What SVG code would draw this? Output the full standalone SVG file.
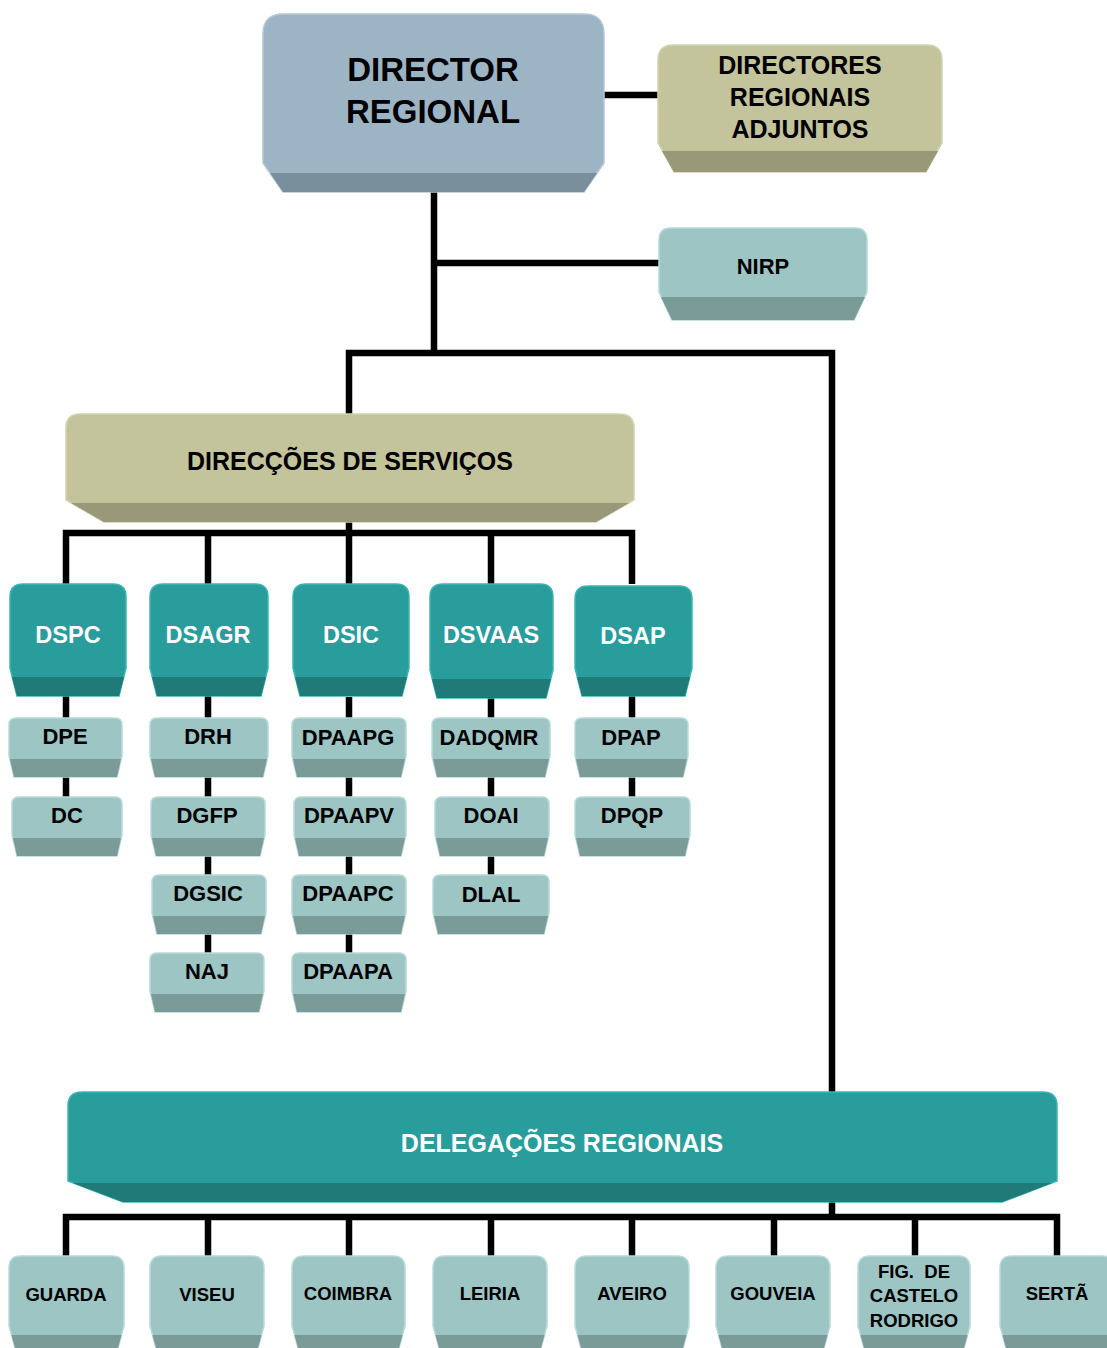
<svg xmlns="http://www.w3.org/2000/svg" width="1107" height="1348" viewBox="0 0 1107 1348">
<style>
text{font-family:"Liberation Sans",Arial,sans-serif;font-weight:bold;text-anchor:middle}
.dk{fill:#000}
.wh{fill:#fff}
.blueF{fill:#9db4c5;stroke:#b4c8d6;stroke-width:1.5}
.blueB{fill:#7a8f9c}
.khF{fill:#c3c39c;stroke:#d4d4b4;stroke-width:1.5}
.khB{fill:#99997a}
.tlF{fill:#289d9b;stroke:#3cb5b2;stroke-width:1.5}
.tlB{fill:#1f7a78}
.ltF{fill:#9dc5c4;stroke:#b6dad8;stroke-width:1.5}
.ltB{fill:#7b9b99}
.conn{fill:none;stroke:#000;stroke-width:6.5;stroke-linejoin:miter;stroke-linecap:butt}
.t33{font-size:33px}.t25{font-size:25px}.t24{font-size:24px}.t23{font-size:23.5px}.t22{font-size:22px}.t18{font-size:18.5px}
</style>
<rect width="1107" height="1348" fill="#fff"/>
<g id="connectors" class="conn">
<path d="M604 95 H658"/>
<path d="M434 192 V353"/>
<path d="M434 263 H660"/>
<path d="M349 414 V353 H832 V1092"/>
<path d="M832 1200 V1217"/>
<path d="M349 522 V533"/>
<path d="M66 584 V533 H632 V584"/>
<path d="M208 533 V584"/>
<path d="M349 533 V584"/>
<path d="M491 533 V584"/>
<path d="M66 696 V797"/>
<path d="M208 696 V953"/>
<path d="M349 697 V953"/>
<path d="M491 698 V876"/>
<path d="M632 696 V797"/>
<path d="M66 1256 V1217 H1057 V1256"/>
<path d="M208 1217 V1256"/>
<path d="M349 1217 V1256"/>
<path d="M491 1217 V1256"/>
<path d="M632 1217 V1256"/>
<path d="M774 1217 V1256"/>
<path d="M915 1217 V1256"/>
</g>
<g id="director-regional">
<path class="blueF" d="M283 14 H584 Q604 14 604 34 V163 L584 192 H283 L263 163 V34 Q263 14 283 14Z"/>
<path class="blueB" d="M270 173 H597 L584 192 H283Z"/>
<text class="dk t33" x="433" y="81">DIRECTOR</text>
<text class="dk t33" x="433" y="123">REGIONAL</text>
</g>
<g id="directores-adjuntos">
<path class="khF" d="M673 45 H927 Q942 45 942 60 V143 L926 172 H674 L658 143 V60 Q658 45 673 45Z"/>
<path class="khB" d="M662 151 H938 L926 172 H674Z"/>
<text class="dk t25" x="800" y="74">DIRECTORES</text>
<text class="dk t25" x="800" y="106">REGIONAIS</text>
<text class="dk t25" x="800" y="138">ADJUNTOS</text>
</g>
<g id="nirp">
<path class="ltF" d="M671 228 H855 Q867 228 867 240 V292 L854 320 H672 L659 292 V240 Q659 228 671 228Z"/>
<path class="ltB" d="M661 297 H865 L854 320 H672Z"/>
<text class="dk t22" x="763" y="274">NIRP</text>
</g>
<g id="direccoes-servicos">
<path class="khF" d="M80 414 H620 Q634 414 634 428 V500 L596 522 H104 L66 500 V428 Q66 414 80 414Z"/>
<path class="khB" d="M71 503 H629 L596 522 H104Z"/>
<text class="dk t25" x="350" y="470">DIRECÇÕES DE SERVIÇOS</text>
</g>
<g id="dspc">
<path class="tlF" d="M23 584 H113 Q126 584 126 597 V668 L119 696 H17 L10 668 V597 Q10 584 23 584Z"/>
<path class="tlB" d="M12 677 H124 L119 696 H17Z"/>
<text class="wh t23" x="68" y="643">DSPC</text>
</g>
<g id="dsagr">
<path class="tlF" d="M163 584 H255 Q268 584 268 597 V668 L261 696 H157 L150 668 V597 Q150 584 163 584Z"/>
<path class="tlB" d="M152 677 H266 L261 696 H157Z"/>
<text class="wh t23" x="208" y="643">DSAGR</text>
</g>
<g id="dsic">
<path class="tlF" d="M306 584 H396 Q409 584 409 597 V668 L402 696 H300 L293 668 V597 Q293 584 306 584Z"/>
<path class="tlB" d="M295 677 H407 L402 696 H300Z"/>
<text class="wh t23" x="351" y="643">DSIC</text>
</g>
<g id="dsvaas">
<path class="tlF" d="M443 584 H540 Q553 584 553 597 V670 L546 698 H437 L430 670 V597 Q430 584 443 584Z"/>
<path class="tlB" d="M432 679 H551 L546 698 H437Z"/>
<text class="wh t23" x="491" y="643">DSVAAS</text>
</g>
<g id="dsap">
<path class="tlF" d="M588 586 H679 Q692 586 692 599 V668 L685 696 H582 L575 668 V599 Q575 586 588 586Z"/>
<path class="tlB" d="M577 677 H690 L685 696 H582Z"/>
<text class="wh t23" x="633" y="644">DSAP</text>
</g>
<g id="dpe">
<path class="ltF" d="M16 718 H115 Q122 718 122 725 V756 L117 777 H14 L9 756 V725 Q9 718 16 718Z"/>
<path class="ltB" d="M10 759 H121 L117 777 H14Z"/>
<text class="dk t22" x="65" y="744">DPE</text>
</g>
<g id="drh">
<path class="ltF" d="M157 718 H261 Q268 718 268 725 V756 L263 777 H155 L150 756 V725 Q150 718 157 718Z"/>
<path class="ltB" d="M151 759 H267 L263 777 H155Z"/>
<text class="dk t22" x="208" y="744">DRH</text>
</g>
<g id="dpaapg">
<path class="ltF" d="M299 718 H399 Q406 718 406 725 V756 L401 777 H297 L292 756 V725 Q292 718 299 718Z"/>
<path class="ltB" d="M293 759 H405 L401 777 H297Z"/>
<text class="dk t22" x="348" y="745">DPAAPG</text>
</g>
<g id="dadqmr">
<path class="ltF" d="M439 718 H543 Q550 718 550 725 V756 L545 777 H437 L432 756 V725 Q432 718 439 718Z"/>
<path class="ltB" d="M433 759 H549 L545 777 H437Z"/>
<text class="dk t22" x="489" y="745">DADQMR</text>
</g>
<g id="dpap">
<path class="ltF" d="M582 718 H681 Q688 718 688 725 V756 L683 777 H580 L575 756 V725 Q575 718 582 718Z"/>
<path class="ltB" d="M576 759 H687 L683 777 H580Z"/>
<text class="dk t22" x="631" y="745">DPAP</text>
</g>
<g id="dc">
<path class="ltF" d="M19 797 H115 Q122 797 122 804 V835 L117 856 H17 L12 835 V804 Q12 797 19 797Z"/>
<path class="ltB" d="M13 838 H121 L117 856 H17Z"/>
<text class="dk t22" x="67" y="823">DC</text>
</g>
<g id="dgfp">
<path class="ltF" d="M158 797 H258 Q265 797 265 804 V835 L260 856 H156 L151 835 V804 Q151 797 158 797Z"/>
<path class="ltB" d="M152 838 H264 L260 856 H156Z"/>
<text class="dk t22" x="207" y="823">DGFP</text>
</g>
<g id="dpaapv">
<path class="ltF" d="M301 797 H399 Q406 797 406 804 V835 L401 856 H299 L294 835 V804 Q294 797 301 797Z"/>
<path class="ltB" d="M295 838 H405 L401 856 H299Z"/>
<text class="dk t22" x="349" y="823">DPAAPV</text>
</g>
<g id="doai">
<path class="ltF" d="M442 797 H542 Q549 797 549 804 V835 L544 856 H440 L435 835 V804 Q435 797 442 797Z"/>
<path class="ltB" d="M436 838 H548 L544 856 H440Z"/>
<text class="dk t22" x="491" y="823">DOAI</text>
</g>
<g id="dpqp">
<path class="ltF" d="M582 797 H683 Q690 797 690 804 V835 L685 856 H580 L575 835 V804 Q575 797 582 797Z"/>
<path class="ltB" d="M576 838 H689 L685 856 H580Z"/>
<text class="dk t22" x="632" y="823">DPQP</text>
</g>
<g id="dgsic">
<path class="ltF" d="M159 875 H259 Q266 875 266 882 V913 L261 934 H157 L152 913 V882 Q152 875 159 875Z"/>
<path class="ltB" d="M153 916 H265 L261 934 H157Z"/>
<text class="dk t22" x="208" y="901">DGSIC</text>
</g>
<g id="dpaapc">
<path class="ltF" d="M299 875 H399 Q406 875 406 882 V913 L401 934 H297 L292 913 V882 Q292 875 299 875Z"/>
<path class="ltB" d="M293 916 H405 L401 934 H297Z"/>
<text class="dk t22" x="348" y="901">DPAAPC</text>
</g>
<g id="dlal">
<path class="ltF" d="M440 875 H542 Q549 875 549 882 V913 L544 934 H438 L433 913 V882 Q433 875 440 875Z"/>
<path class="ltB" d="M434 916 H548 L544 934 H438Z"/>
<text class="dk t22" x="491" y="902">DLAL</text>
</g>
<g id="naj">
<path class="ltF" d="M157 953 H257 Q264 953 264 960 V991 L259 1012 H155 L150 991 V960 Q150 953 157 953Z"/>
<path class="ltB" d="M151 994 H263 L259 1012 H155Z"/>
<text class="dk t22" x="207" y="979">NAJ</text>
</g>
<g id="dpaapa">
<path class="ltF" d="M299 953 H399 Q406 953 406 960 V991 L401 1012 H297 L292 991 V960 Q292 953 299 953Z"/>
<path class="ltB" d="M293 994 H405 L401 1012 H297Z"/>
<text class="dk t22" x="348" y="979">DPAAPA</text>
</g>
<g id="delegacoes-regionais">
<path class="tlF" d="M82 1092 H1043 Q1057 1092 1057 1106 V1181 L1002 1202 H123 L68 1181 V1106 Q68 1092 82 1092Z"/>
<path class="tlB" d="M73 1183 H1052 L1002 1202 H123Z"/>
<text class="wh t25" x="562" y="1152">DELEGAÇÕES REGIONAIS</text>
</g>
<g id="guarda">
<path class="ltF" d="M21 1256 H112 Q124 1256 124 1268 V1326 L112 1370 H21 L9 1326 V1268 Q9 1256 21 1256Z"/>
<path class="ltB" d="M11.5 1335 H121.5 L112 1370 H21Z"/>
<text class="dk t18" x="66" y="1301">GUARDA</text>
</g>
<g id="viseu">
<path class="ltF" d="M162 1256 H252 Q264 1256 264 1268 V1326 L252 1370 H162 L150 1326 V1268 Q150 1256 162 1256Z"/>
<path class="ltB" d="M152.5 1335 H261.5 L252 1370 H162Z"/>
<text class="dk t18" x="207" y="1301">VISEU</text>
</g>
<g id="coimbra">
<path class="ltF" d="M304 1256 H393 Q405 1256 405 1268 V1326 L393 1370 H304 L292 1326 V1268 Q292 1256 304 1256Z"/>
<path class="ltB" d="M294.5 1335 H402.5 L393 1370 H304Z"/>
<text class="dk t18" x="348" y="1300">COIMBRA</text>
</g>
<g id="leiria">
<path class="ltF" d="M445 1256 H535 Q547 1256 547 1268 V1326 L535 1370 H445 L433 1326 V1268 Q433 1256 445 1256Z"/>
<path class="ltB" d="M435.5 1335 H544.5 L535 1370 H445Z"/>
<text class="dk t18" x="490" y="1300">LEIRIA</text>
</g>
<g id="aveiro">
<path class="ltF" d="M587 1256 H677 Q689 1256 689 1268 V1326 L677 1370 H587 L575 1326 V1268 Q575 1256 587 1256Z"/>
<path class="ltB" d="M577.5 1335 H686.5 L677 1370 H587Z"/>
<text class="dk t18" x="632" y="1300">AVEIRO</text>
</g>
<g id="gouveia">
<path class="ltF" d="M728 1256 H818 Q830 1256 830 1268 V1326 L818 1370 H728 L716 1326 V1268 Q716 1256 728 1256Z"/>
<path class="ltB" d="M718.5 1335 H827.5 L818 1370 H728Z"/>
<text class="dk t18" x="773" y="1300">GOUVEIA</text>
</g>
<g id="fig-castelo-rodrigo">
<path class="ltF" d="M870 1256 H958 Q970 1256 970 1268 V1326 L958 1370 H870 L858 1326 V1268 Q858 1256 870 1256Z"/>
<path class="ltB" d="M860.5 1335 H967.5 L958 1370 H870Z"/>
<text class="dk t18" x="914" y="1278">FIG.&#160; DE</text>
<text class="dk t18" x="914" y="1302">CASTELO</text>
<text class="dk t18" x="914" y="1327">RODRIGO</text>
</g>
<g id="serta">
<path class="ltF" d="M1012 1256 H1102 Q1114 1256 1114 1268 V1326 L1102 1370 H1012 L1000 1326 V1268 Q1000 1256 1012 1256Z"/>
<path class="ltB" d="M1002.5 1335 H1111.5 L1102 1370 H1012Z"/>
<text class="dk t18" x="1057" y="1300">SERTÃ</text>
</g>
</svg>
